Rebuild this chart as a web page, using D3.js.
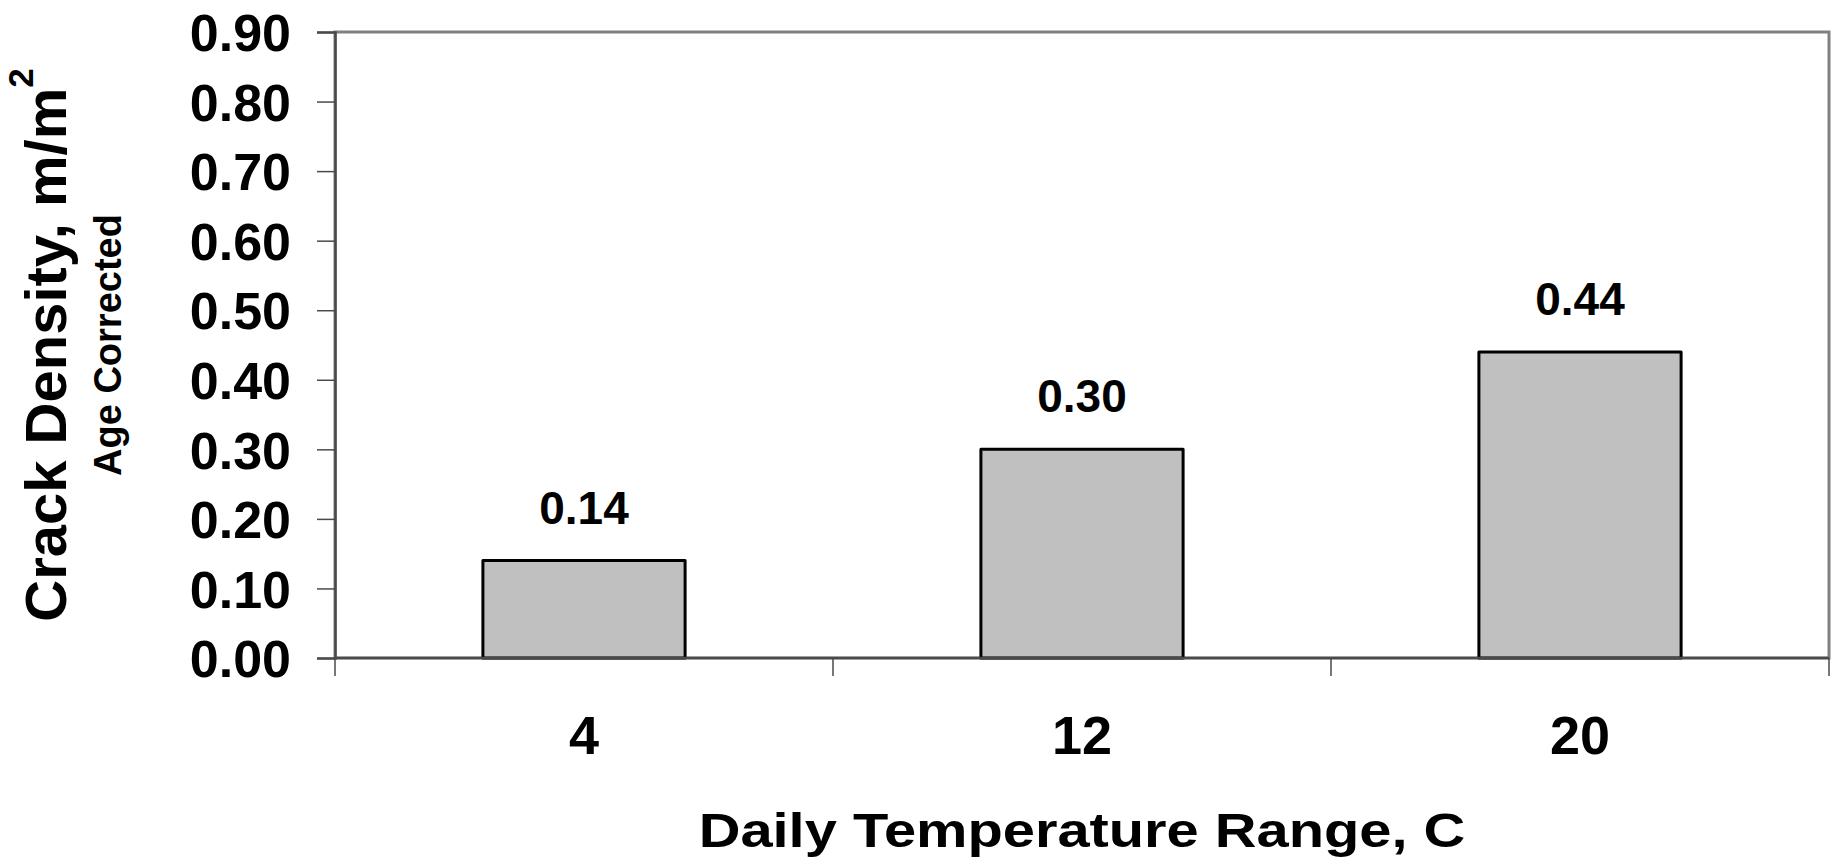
<!DOCTYPE html>
<html>
<head>
<meta charset="utf-8">
<script src="https://cdn.jsdelivr.net/npm/d3@7"></script>
<style>
  html, body { margin: 0; padding: 0; background: #fff; }
  svg { display: block; font-family: "Liberation Sans", Arial, sans-serif; font-weight: bold; }
</style>
</head>
<body>
<svg id="chart" width="1836" height="864"></svg>
<script>
// Daily temperature range categories and age-corrected crack density
const categories = ["4", "12", "20"];
const crackDensity = [0.14, 0.30, 0.44];
const valueLabels = ["0.14", "0.30", "0.44"];
const yTicks = [0, 0.1, 0.2, 0.3, 0.4, 0.5, 0.6, 0.7, 0.8, 0.9];

const svg = d3.select("#chart");
const margin = { left: 335, top: 32, right: 7, bottom: 206 };
const W = 1836, H = 864;
const x0 = margin.left, x1 = W - margin.right;
const y0 = H - margin.bottom, y1 = margin.top;

const x = d3.scaleBand().domain(categories).range([x0, x1]).paddingInner(0.594).paddingOuter(0.297);
const xCat = d3.scaleBand().domain(categories).range([x0, x1]);
const y = d3.scaleLinear().domain([0, 0.9]).range([y0, y1]);

// plot frame (top and right edges)
svg.append("rect")
  .attr("x", x0).attr("y", y1)
  .attr("width", x1 - x0).attr("height", y0 - y1)
  .attr("fill", "#fff").attr("stroke", "#808080").attr("stroke-width", 3);

// bars
svg.append("g").selectAll("rect")
  .data(crackDensity)
  .join("rect")
  .attr("x", (d, i) => x(categories[i]))
  .attr("y", d => y(d))
  .attr("width", x.bandwidth())
  .attr("height", d => y(0) - y(d))
  .attr("fill", "#c0c0c0")
  .attr("stroke", "#000")
  .attr("stroke-width", 3)
  .attr("stroke-linejoin", "round");

// value labels above the bars
svg.append("g").selectAll("text")
  .data(crackDensity)
  .join("text")
  .attr("x", (d, i) => x(categories[i]) + x.bandwidth() / 2)
  .attr("y", d => y(d) - 37)
  .attr("text-anchor", "middle")
  .attr("font-size", 46)
  .attr("fill", "#000")
  .text((d, i) => valueLabels[i]);

// y axis
const yAxis = d3.axisLeft(y).tickValues(yTicks).tickFormat(d3.format(".2f")).tickSize(18).tickPadding(26);
const gy = svg.append("g").attr("transform", `translate(${x0},0)`).call(yAxis);
gy.select(".domain").attr("stroke", "#4a4a4a").attr("stroke-width", 2.5);
gy.selectAll(".tick line").attr("stroke", "#4a4a4a").attr("stroke-width", 1.5);
gy.selectAll(".tick text")
  .attr("font-size", 52).attr("font-family", "Liberation Sans, Arial, sans-serif")
  .attr("font-weight", "bold").attr("fill", "#000").attr("dy", "0.36em");

// x axis: ticks at category boundaries, labels centred in each category
const boundaries = d3.range(categories.length + 1).map(i => x0 + i * xCat.step());
const gx = svg.append("g");
gx.append("line")
  .attr("x1", x0).attr("x2", x1).attr("y1", y0).attr("y2", y0)
  .attr("stroke", "#4a4a4a").attr("stroke-width", 2.5);
gx.selectAll("line.tick")
  .data(boundaries)
  .join("line")
  .attr("class", "tick")
  .attr("x1", d => d).attr("x2", d => d)
  .attr("y1", y0).attr("y2", y0 + 18)
  .attr("stroke", "#4a4a4a").attr("stroke-width", 1.5);
gx.selectAll("text")
  .data(categories)
  .join("text")
  .attr("x", d => xCat(d) + xCat.bandwidth() / 2)
  .attr("y", y0 + 96)
  .attr("text-anchor", "middle")
  .attr("font-size", 54)
  .attr("fill", "#000")
  .text(d => d);

// x axis title (horizontally widened lettering)
svg.append("text")
  .attr("transform", `translate(${(x0 + x1) / 2},847) scale(1.18,1)`)
  .attr("text-anchor", "middle")
  .attr("font-size", 49)
  .attr("fill", "#000")
  .text("Daily Temperature Range, C");

// y axis title with superscript and subtitle
const yMid = (y0 + y1) / 2;
const yt = svg.append("text")
  .attr("transform", `translate(66,${yMid}) rotate(-90)`)
  .attr("text-anchor", "middle")
  .attr("font-size", 58)
  .attr("fill", "#000");
yt.append("tspan").text("Crack Density, m/m");
yt.append("tspan").attr("font-size", 35).attr("dy", -33).text("2");

svg.append("text")
  .attr("transform", `translate(121,${yMid}) rotate(-90)`)
  .attr("text-anchor", "middle")
  .attr("font-size", 38)
  .attr("fill", "#000")
  .text("Age Corrected");
</script>
</body>
</html>
